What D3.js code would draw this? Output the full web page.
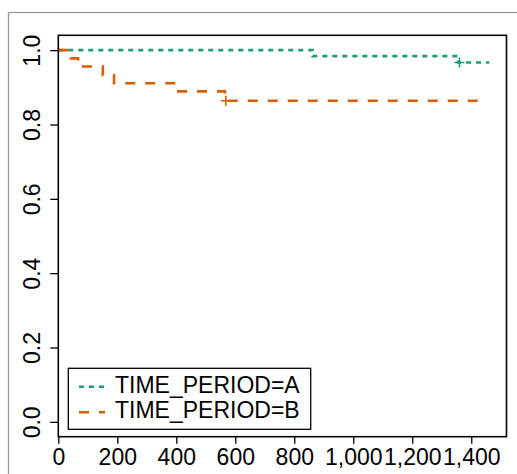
<!DOCTYPE html>
<html lang="en">
<head>
  <meta charset="UTF-8">
  <title>Survival by time period</title>
  <script src="https://cdnjs.cloudflare.com/ajax/libs/d3/7.6.1/d3.min.js"></script>
  <style>
    body { margin: 0; background: #fff; }
    text { font-family: "Liberation Sans", Arial, sans-serif; font-size: 23px; fill: #000; }
  </style>
</head>
<body>
<div id="wrapper"></div>
<script>
// group A: event times and survival after each event
const timesA = [862, 1355];
const survA = [0.984, 0.967];
const censA = [1360];
const endA = 1461;

// group B
const timesB = [42, 67, 151, 189, 392, 565];
const survB = [0.978, 0.956, 0.933, 0.911, 0.889, 0.864];
const censB = [568];
const endB = 1423;

const xTicks = [0, 200, 400, 600, 800, 1000, 1200, 1400];
const yTicks = [0, 0.2, 0.4, 0.6, 0.8, 1.0];
const groups = ["TIME_PERIOD=A", "TIME_PERIOD=B"];
const colors = ["#1b9e77", "#d95f02"];
const dashes = ["5,5", "10,10"];

const width = 517, height = 474;
const box = {left: 58.3, right: 506.5, top: 35.3, bottom: 436.7};

const svg = d3.select("#wrapper").append("svg")
  .attr("width", width)
  .attr("height", height);

const x = d3.scaleLinear().domain([0, endA * 1.04]).range([box.left, box.right]);
const y = d3.scaleLinear().domain([-0.04, 1.04]).range([box.bottom, box.top]);

// outer frame
svg.append("rect")
  .attr("x", 8.5).attr("y", 12.5)
  .attr("width", 520).attr("height", 480)
  .attr("fill", "none").attr("stroke", "#999").attr("stroke-width", 1.3);

function curvePoints(times, surv, end) {
  const pts = [[0, 1]];
  times.forEach((t, i) => pts.push([t, surv[i]]));
  pts.push([end, surv[surv.length - 1]]);
  return pts;
}

function survAt(times, surv, t) {
  let s = 1;
  times.forEach((tt, i) => { if (tt <= t) s = surv[i]; });
  return s;
}

const line = d3.line()
  .x(d => x(d[0]))
  .y(d => y(d[1]))
  .curve(d3.curveStepAfter);

const series = [
  {times: timesA, surv: survA, cens: censA, end: endA},
  {times: timesB, surv: survB, cens: censB, end: endB}
];

series.forEach((s, i) => {
  svg.append("path")
    .attr("d", line(curvePoints(s.times, s.surv, s.end)))
    .attr("fill", "none")
    .attr("stroke", colors[i])
    .attr("stroke-width", 2.6)
    .attr("stroke-dasharray", dashes[i]);

  s.cens.forEach(c => {
    const cx = x(c), cy = y(survAt(s.times, s.surv, c));
    svg.append("path")
      .attr("d", `M${cx - 5},${cy}H${cx + 5}M${cx},${cy - 5}V${cy + 5}`)
      .attr("stroke", colors[i])
      .attr("stroke-width", 1.6);
  });
});

// plot box
svg.append("rect")
  .attr("x", box.left).attr("y", box.top)
  .attr("width", box.right - box.left).attr("height", box.bottom - box.top)
  .attr("fill", "none").attr("stroke", "#000").attr("stroke-width", 1.6);

// x axis
const xAxis = svg.append("g")
  .attr("transform", `translate(0,${box.bottom})`)
  .call(d3.axisBottom(x).tickValues(xTicks).tickFormat(d3.format(",")).tickSize(7).tickSizeOuter(0));
xAxis.select(".domain").remove();
xAxis.selectAll("line").attr("stroke", "#000").attr("stroke-width", 1.3);
xAxis.selectAll("text")
  .attr("font-family", null).attr("font-size", null)
  .attr("dy", null).attr("y", 28.5);

// y axis, rotated labels
const yAxis = svg.append("g")
  .attr("transform", `translate(${box.left},0)`)
  .call(d3.axisLeft(y).tickValues(yTicks).tickFormat(d3.format(".1f")).tickSize(8).tickSizeOuter(0));
yAxis.select(".domain").remove();
yAxis.selectAll("line").attr("stroke", "#000").attr("stroke-width", 1.3);
yAxis.selectAll("text")
  .attr("font-family", null).attr("font-size", null)
  .attr("x", null).attr("dy", null)
  .attr("text-anchor", "middle")
  .attr("transform", "translate(-18.8,0) rotate(-90)");

// legend
const legend = svg.append("g");
legend.append("rect")
  .attr("x", 68.3).attr("y", 368.3)
  .attr("width", 242.4).attr("height", 61)
  .attr("fill", "#fff").attr("stroke", "#000").attr("stroke-width", 1.3);

groups.forEach((g, i) => {
  const ly = 386.7 + i * 25.6;
  legend.append("line")
    .attr("x1", 79).attr("x2", 105)
    .attr("y1", ly).attr("y2", ly)
    .attr("stroke", colors[i])
    .attr("stroke-width", 2.6)
    .attr("stroke-dasharray", dashes[i]);
  legend.append("text")
    .attr("x", 115)
    .attr("y", ly + 5.8)
    .text(g);
});
</script>
</body>
</html>
